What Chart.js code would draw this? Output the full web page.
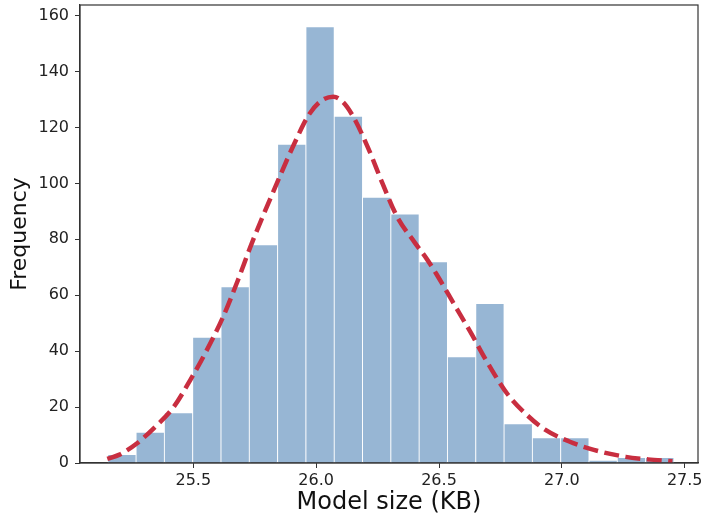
<!DOCTYPE html>
<html>
<head>
<meta charset="utf-8">
<script src="https://cdn.jsdelivr.net/npm/chart.js@4.4.1/dist/chart.umd.min.js"></script>
<style>
  html, body { margin: 0; padding: 0; background: #fff; }
  #wrap { width: 702px; height: 514px; }
</style>
</head>
<body>
<div id="wrap"><canvas id="hist"></canvas></div>
<script>
// histogram of model sizes, 20 bins
var binStart = 25.152;
var binWidth = 0.1152;
var counts = [3, 11, 18, 45, 63, 78, 114, 156, 124, 95, 89, 72, 38, 57, 14, 9, 9, 1, 2, 2];

// density estimate, scaled to counts
var kdeX = [25.15, 25.20, 25.27, 25.34, 25.42, 25.49, 25.55, 25.62, 25.68, 25.74, 25.84, 25.91, 25.97, 26.02, 26.07, 26.11, 26.15, 26.21, 26.27, 26.33, 26.40, 26.45, 26.49, 26.56, 26.63, 26.69, 26.78, 26.86, 26.93, 27.03, 27.13, 27.26, 27.35, 27.45];
var kdeY = [1.5, 3, 7, 12.5, 20, 30, 39.5, 52, 65, 79, 100, 114, 124.5, 129.5, 131, 129, 124, 113, 100, 88, 79, 73, 67.5, 57, 46.5, 37, 24.5, 17, 12, 7.7, 4.7, 2.2, 1.3, 0.6];

var xTicks = [25.5, 26.0, 26.5, 27.0, 27.5];
var yTicks = [0, 20, 40, 60, 80, 100, 120, 140, 160];

var barData = counts.map(function (c, i) {
    return { x: binStart + (i + 0.5) * binWidth, y: c };
});
var lineData = kdeX.map(function (x, i) {
    return { x: x, y: kdeY[i] };
});

var frame = {
    id: 'frame',
    afterDraw: function (chart) {
        var a = chart.chartArea, ctx = chart.ctx;
        ctx.save();
        ctx.strokeStyle = '#333';
        ctx.lineWidth = 1.2;
        ctx.strokeRect(a.left, a.top, a.right - a.left, a.bottom - a.top);
        ctx.restore();
    }
};

var font = 'DejaVu Sans';
var ctx = document.getElementById('hist').getContext('2d');
var chart = new Chart(ctx, {
    type: 'bar',
    data: {
        datasets: [{
            type: 'line',
            data: lineData,
            borderColor: 'rgb(200,46,64)',
            borderWidth: 4.5,
            borderDash: [15, 6.5],
            borderCapStyle: 'butt',
            pointRadius: 0,
            cubicInterpolationMode: 'monotone',
            fill: false,
            order: 0
        }, {
            data: barData,
            backgroundColor: '#97b6d4',
            borderColor: '#ffffff',
            borderWidth: 0.8,
            barPercentage: 1,
            categoryPercentage: 1,
            order: 1
        }]
    },
    options: {
        responsive: true,
        maintainAspectRatio: false,
        animation: false,
        layout: { padding: { top: 5, right: 4, left: 0, bottom: 0 } },
        plugins: { legend: { display: false }, tooltip: { enabled: false } },
        scales: {
            x: {
                type: 'linear',
                min: 25.039,
                max: 27.554,
                offset: false,
                afterBuildTicks: function (s) { s.ticks = xTicks.map(function (v) { return { value: v }; }); },
                afterFit: function (s) { s.height = 51; s.paddingLeft = 0; s.paddingRight = 0; },
                ticks: {
                    color: '#222',
                    padding: 3,
                    font: { family: font, size: 16 },
                    callback: function (v) { return v.toFixed(1); }
                },
                grid: { offset: false, drawOnChartArea: false, drawTicks: true, tickLength: 5, color: '#333' },
                border: { display: true, color: '#333', width: 1.2 },
                title: {
                    display: true,
                    text: 'Model size (KB)',
                    color: '#111',
                    padding: { top: 0, bottom: 0 },
                    font: { family: font, size: 24, lineHeight: 0.92 }
                }
            },
            y: {
                min: 0,
                max: 163.8,
                afterBuildTicks: function (s) { s.ticks = yTicks.map(function (v) { return { value: v }; }); },
                afterFit: function (s) { s.width = 80; s.paddingTop = 0; s.paddingBottom = 0; },
                ticks: {
                    color: '#222',
                    padding: 6,
                    font: { family: font, size: 16 }
                },
                grid: { drawOnChartArea: false, drawTicks: true, tickLength: 5, color: '#333' },
                border: { display: true, color: '#333', width: 1.2 },
                title: {
                    display: true,
                    text: 'Frequency',
                    color: '#111',
                    padding: { top: 7, bottom: 0 },
                    font: { family: font, size: 22 }
                }
            }
        }
    },
    plugins: [frame]
});
</script>
</body>
</html>
